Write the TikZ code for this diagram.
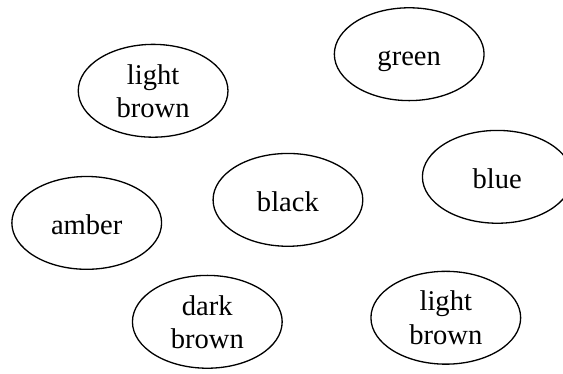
\documentclass[tikz,border=0pt]{standalone}
\usepackage{fontspec}
\setmainfont{Liberation Serif}
\usepackage{tikz}
\usetikzlibrary{shapes.geometric}

\begin{document}
\begin{tikzpicture}[
  every node/.style={font=\fontsize{12}{13.9}\selectfont},
  colour/.style={ellipse, draw, line width=0.55pt, minimum width=22.1mm,
    minimum height=13.7mm, align=center, inner sep=0pt},
  oneline/.style={colour, text height=9.5pt, text depth=0pt}
]
  \useasboundingbox (0, 0) rectangle (8.31, -5.52);
  \clip (0, 0) rectangle (8.31, -5.52);

  \node[colour] (lightbrownA) at (2.26, -1.34) {light\\brown};
  \node[oneline] (green) at (6.04, -0.80) {green};
  \node[oneline] (blue) at (7.34, -2.61) {blue};
  \node[oneline] (black) at (4.25, -2.95) {black};
  \node[oneline] (amber) at (1.28, -3.29) {amber};
  \node[colour] (darkbrown) at (3.06, -4.75) {dark\\brown};
  \node[colour] (lightbrownB) at (6.58, -4.69) {light\\brown};
\end{tikzpicture}
\end{document}
